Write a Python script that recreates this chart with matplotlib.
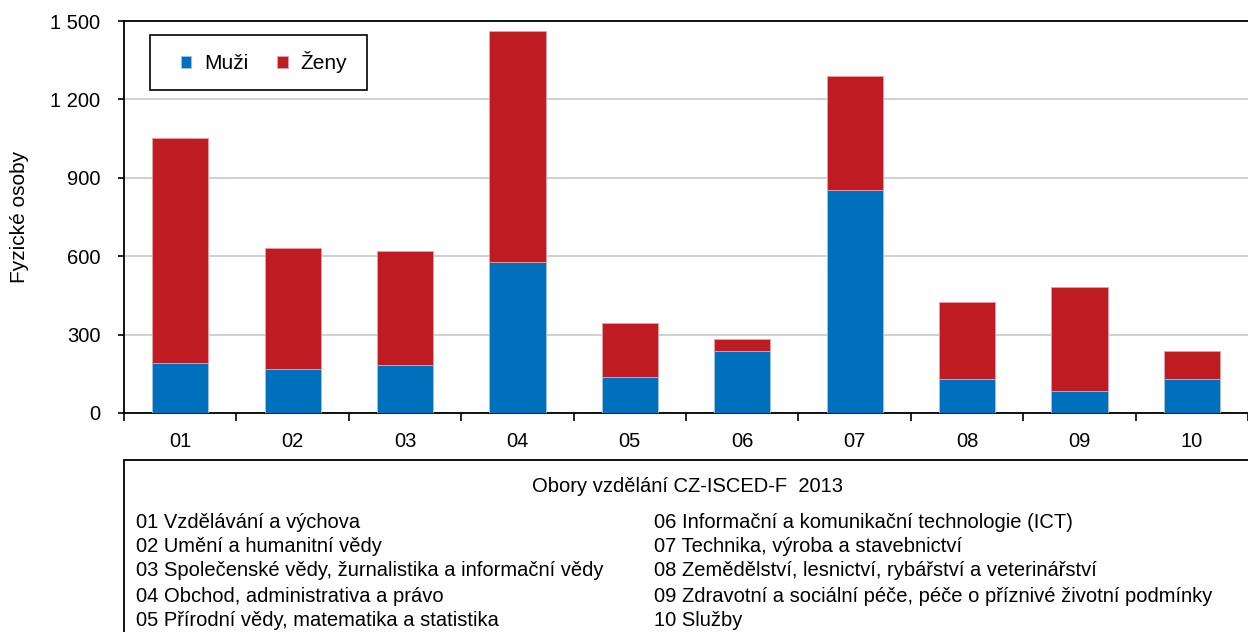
import numpy as np
import matplotlib
matplotlib.use("Agg")
import matplotlib.pyplot as plt
from matplotlib.patches import Rectangle
from matplotlib.ticker import FuncFormatter

plt.rcParams['font.family'] = ['Liberation Sans', 'DejaVu Sans']

# data
categories = ['01', '02', '03', '04', '05', '06', '07', '08', '09', '10']
muzi = [193, 170, 184, 576, 139, 239, 853, 132, 84, 132]
zeny = [858, 460, 437, 886, 207, 46, 437, 291, 399, 107]

obory_left = ['01 Vzdělávání a výchova',
              '02 Umění a humanitní vědy',
              '03 Společenské vědy, žurnalistika a informační vědy',
              '04 Obchod, administrativa a právo',
              '05 Přírodní vědy, matematika a statistika']
obory_right = ['06 Informační a komunikační technologie (ICT)',
               '07 Technika, výroba a stavebnictví',
               '08 Zemědělství, lesnictví, rybářství a veterinářství',
               '09 Zdravotní a sociální péče, péče o příznivé životní podmínky',
               '10 Služby']

blue = '#0070BD'
red = '#BE1B23'

W, H = 1248, 632
fig = plt.figure(figsize=(W / 100, H / 100), dpi=100)
aw, ah = W - 124, 413 - 21
ax = fig.add_axes([124 / W, 1 - 413 / H, aw / W, ah / H])

x = np.arange(len(categories))
ax.bar(x, muzi, width=0.5, color=blue, edgecolor='#9DC3E6', linewidth=0.6, label='Muži', zorder=3)
ax.bar(x, zeny, width=0.5, bottom=muzi, color=red, edgecolor='#E8A0A4', linewidth=0.6, label='Ženy', zorder=3)

ax.set_xlim(-0.5, len(categories) - 0.5)
ax.set_ylim(0, 1500)
ax.set_yticks([0, 300, 600, 900, 1200, 1500])
ax.yaxis.set_major_formatter(FuncFormatter(lambda v, p: f'{int(v):,}'.replace(',', ' ')))
ax.set_xticks(x)
ax.set_xticklabels(categories)
ax.set_xticks(np.arange(len(categories) + 1) - 0.5, minor=True)
ax.tick_params(axis='x', which='major', length=0, pad=14, labelsize=14.5)
ax.tick_params(axis='x', which='minor', length=6, width=1.2, direction='out')
ax.tick_params(axis='y', length=4, width=1.2, direction='out', labelsize=14.5, pad=13)
ax.grid(axis='y', color='#C8C8C8', linewidth=1.2, zorder=0)
for s in ['left', 'bottom', 'top']:
    ax.spines[s].set_linewidth(1.3)
ax.spines['right'].set_visible(False)
ax.set_ylabel('Fyzické osoby', fontsize=15, labelpad=15)

# legend with its own frame
ax.add_patch(Rectangle(((150 - 124) / aw, (413 - 90) / ah), 217 / aw, 55 / ah,
                       transform=ax.transAxes, fill=True, facecolor='white',
                       edgecolor='black', linewidth=1.2, zorder=5))
leg = ax.legend(loc='center left', bbox_to_anchor=((181 - 124) / aw, (413 - 62) / ah), ncol=2,
                fontsize=15, frameon=False,
                handlelength=0.5, handleheight=0.5, handletextpad=0.6,
                columnspacing=1.4, borderpad=0, borderaxespad=0)
leg.set_zorder(6)

# explanation box below the chart
fig.patches.append(Rectangle((124 / W, -0.02), (W - 124) / W + 0.01, 1 - 460 / H + 0.02,
                             transform=fig.transFigure, fill=False, edgecolor='black', linewidth=1.3))
fig.text(688 / W, 1 - 487 / H, 'Obory vzdělání CZ-ISCED-F  2013', ha='center', va='center', fontsize=14.5)
ys = [522, 546, 571, 596, 620]
for t, yy in zip(obory_left, ys):
    fig.text(136 / W, 1 - yy / H, t, ha='left', va='center', fontsize=14.5)
for t, yy in zip(obory_right, ys):
    fig.text(654 / W, 1 - yy / H, t, ha='left', va='center', fontsize=14.5)

fig.savefig('out.png', dpi=100)
